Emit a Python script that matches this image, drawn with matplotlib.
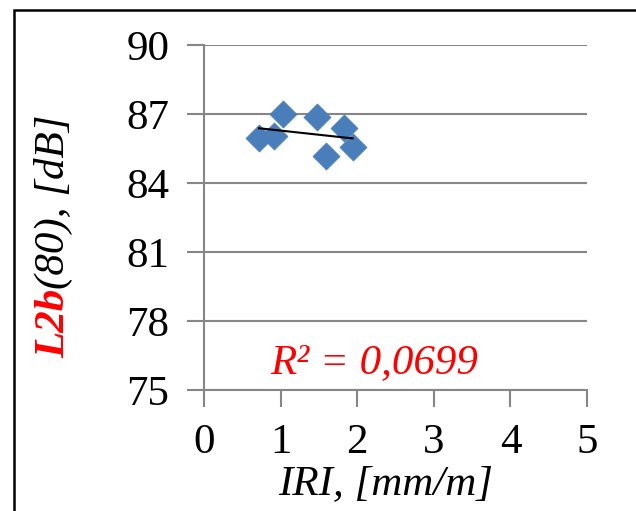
import numpy as np
import matplotlib
matplotlib.use("Agg")
import matplotlib.pyplot as plt
from matplotlib.patches import Rectangle

# Data
iri = [0.72, 0.91, 1.035, 1.47, 1.83, 1.59, 1.94]
l2b = [85.97, 86.06, 86.99, 86.88, 86.41, 85.19, 85.55]
x_ticks = [0, 1, 2, 3, 4, 5]
y_ticks = [75, 78, 81, 84, 87, 90]
r2_label = "R² = 0,0699"

plt.rcParams['font.family'] = ['Liberation Serif', 'DejaVu Serif']
W, H = 636, 511
fig = plt.figure(figsize=(W / 100, H / 100), dpi=100)

# outer border (clipped on right and bottom like the reference)
fig.patches.append(Rectangle((14 / W, -0.1), 1.2, (H - 10) / H + 0.1,
                             transform=fig.transFigure, fill=False,
                             edgecolor='black', linewidth=1.8))

ax = fig.add_axes([204 / W, 1 - 390 / H, (587 - 204) / W, (390 - 45) / H])
gray = '#868686'
ax.scatter(iri, l2b, marker='D', s=190, color='#4a7ebb', edgecolors='#4a7ebb',
           linewidths=0.5, zorder=3)

# linear trendline
coef = np.polyfit(iri, l2b, 1)
xs = np.array([min(iri), max(iri)])
ax.plot(xs, np.polyval(coef, xs), color='black', linewidth=1.5, zorder=4)

ax.set_xlim(0, 5)
ax.set_ylim(75, 90)
ax.set_xticks(x_ticks)
ax.set_yticks(y_ticks)
ax.set_xticklabels([str(t) for t in x_ticks])
ax.set_yticklabels([str(t) for t in y_ticks])
ax.yaxis.grid(True, color=gray, linewidth=1.5)
ax.set_axisbelow(True)
for s in ['top', 'right']:
    ax.spines[s].set_visible(False)
for s in ['left', 'bottom']:
    ax.spines[s].set_color(gray)
    ax.spines[s].set_linewidth(1.5)
ax.tick_params(axis='both', direction='out', length=12, width=1.5, color=gray,
               labelsize=31, labelcolor='black')
ax.tick_params(axis='y', pad=13)
ax.tick_params(axis='x', pad=12)

# x axis title
fig.text(386 / W, 1 - 494 / H, "IRI, [mm/m]", fontsize=31, style='italic',
         ha='center', va='baseline')

ax.text(0.87, 75.74, r2_label, color='red', fontsize=31, style='italic',
        ha='left', va='baseline')

# y label: red bold italic "L2b" followed by italic "(80), [dB]"
fig.canvas.draw()
r = fig.canvas.get_renderer()
t1 = fig.text(73 / W, 1 - 358 / H, "L2b", rotation=90, color='red',
              fontsize=31, style='italic', weight='bold', ha='right', va='bottom')
fig.canvas.draw()
bb = t1.get_window_extent(r)
t2 = fig.text(73 / W, bb.y1 / H, "(80), [dB]", rotation=90, color='black',
              fontsize=31, style='italic', ha='right', va='bottom')

fig.savefig("out.png", dpi=100)
